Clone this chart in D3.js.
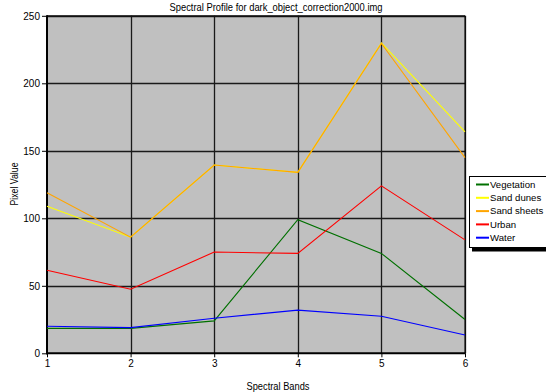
<!DOCTYPE html>
<html><head><meta charset="utf-8">
<script src="https://cdn.jsdelivr.net/npm/d3@7"></script>
<style>body{margin:0;background:#fff}svg{display:block}text{font-family:"Liberation Sans",Arial,sans-serif;fill:#000}</style>
</head><body>
<svg id="c" width="546" height="392"></svg>
<script>
const bands = [1, 2, 3, 4, 5, 6];
const seriesNames = ["Vegetation", "Sand dunes", "Sand sheets", "Urban", "Water"];
const vegetation = [18.5, 18.5, 24, 99, 74, 25];
const sandDunes = [109, 86, 139.5, 134, 230, 164];
const sandSheets = [119, 86, 139.5, 134, 229.5, 145];
const urban = [61.5, 47.5, 75, 74, 124, 84];
const water = [20, 19, 26, 32, 27.5, 13.5];
const yTicks = [0, 50, 100, 150, 200, 250];
const colors = ["#007000", "#ffff00", "#ffa500", "#ff0000", "#0000ff"];

const seriesValues = [vegetation, sandDunes, sandSheets, urban, water];
const svg = d3.select("#c");
const L = 47, R = 465, T = 15.8, B = 353.3;
const x = d3.scaleLinear().domain([1, 6]).range([L, R]);
const y = d3.scaleLinear().domain([0, 250]).range([B, T]);

svg.append("rect").attr("x", L).attr("y", T).attr("width", R - L).attr("height", B - T).attr("fill", "#c0c0c0");

// grid
svg.append("g").selectAll("line").data(bands.slice(1)).join("line")
  .attr("x1", d => Math.round(x(d)) + 0.5).attr("x2", d => Math.round(x(d)) + 0.5)
  .attr("y1", T).attr("y2", B).attr("stroke", "#1a1a1a").attr("stroke-width", 1.3);
svg.append("g").selectAll("line").data(yTicks.slice(1)).join("line")
  .attr("y1", d => Math.round(y(d)) + 0.5).attr("y2", d => Math.round(y(d)) + 0.5)
  .attr("x1", L).attr("x2", R).attr("stroke", "#1a1a1a").attr("stroke-width", 1.3);

// axes
const yAxis = d3.axisLeft(y).tickValues(yTicks).tickSize(5).tickPadding(2);
const gy = svg.append("g").attr("transform", `translate(${L},0)`).call(yAxis);
gy.select(".domain").remove();
gy.selectAll("text").attr("font-size", "10px").attr("font-family", '"Liberation Sans",Arial,sans-serif');
const xAxis = d3.axisBottom(x).tickValues(bands).tickFormat(d3.format("d")).tickSize(4).tickPadding(3);
const gx = svg.append("g").attr("transform", `translate(0,${B})`).call(xAxis);
gx.select(".domain").remove();
gx.selectAll("text").attr("font-size", "10px").attr("font-family", '"Liberation Sans",Arial,sans-serif');

// frame
svg.append("line").attr("x1", L).attr("x2", R).attr("y1", T).attr("y2", T).attr("stroke", "#000");
svg.append("line").attr("x1", R).attr("x2", R).attr("y1", T).attr("y2", B).attr("stroke", "#000");
svg.append("line").attr("x1", L).attr("x2", L).attr("y1", T - 0.5).attr("y2", B + 1).attr("stroke", "#000").attr("stroke-width", 2);
svg.append("line").attr("x1", L - 1).attr("x2", R + 0.5).attr("y1", B).attr("y2", B).attr("stroke", "#000").attr("stroke-width", 2);

// series
const line = d3.line().x((d, i) => x(bands[i])).y(d => y(d));
svg.append("g").selectAll("path").data(seriesValues).join("path")
  .attr("d", d => line(d)).attr("fill", "none")
  .attr("stroke", (d, i) => colors[i]).attr("stroke-width", 1.1);

// titles
svg.append("text").attr("x", 276).attr("y", 11).attr("text-anchor", "middle").attr("font-size", "11px")
  .attr("textLength", 213).attr("lengthAdjust", "spacingAndGlyphs")
  .text("Spectral Profile for dark_object_correction2000.img");
svg.append("text").attr("x", 278).attr("y", 390).attr("text-anchor", "middle").attr("font-size", "11px")
  .attr("textLength", 63).attr("lengthAdjust", "spacingAndGlyphs").text("Spectral Bands");
svg.append("text").attr("transform", "translate(18,184) rotate(-90)").attr("text-anchor", "middle").attr("font-size", "11px")
  .attr("textLength", 43).attr("lengthAdjust", "spacingAndGlyphs").text("Pixel Value");

// legend
const lg = svg.append("g");
lg.append("rect").attr("x", 472).attr("y", 179.5).attr("width", 80).attr("height", 72).attr("fill", "#000");
lg.append("rect").attr("x", 469.5).attr("y", 176.5).attr("width", 80).attr("height", 71).attr("fill", "#fff").attr("stroke", "#000");
const rows = lg.selectAll("g.row").data(seriesNames).join("g").attr("class", "row")
  .attr("transform", (d, i) => `translate(0,${184.5 + i * 13.3})`);
rows.append("line").attr("x1", 476).attr("x2", 489).attr("y1", 0).attr("y2", 0)
  .attr("stroke", (d, i) => colors[i]).attr("stroke-width", 2);
rows.append("text").attr("x", 490).attr("y", 0).attr("dy", "0.35em").attr("font-size", "9.6px").text(d => d);
</script>
</body></html>
